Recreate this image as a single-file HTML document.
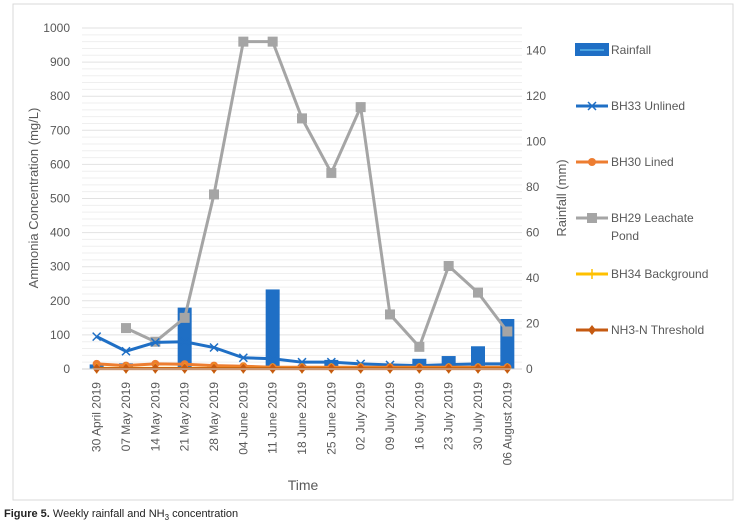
<!DOCTYPE html>
<html><head><meta charset="utf-8"><style>
body{margin:0;background:#fff;font-family:"Liberation Sans",sans-serif}
svg text{font-family:"Liberation Sans",sans-serif}
</style></head><body>
<svg id="c" width="739" height="526" xmlns="http://www.w3.org/2000/svg">
<rect x="13" y="4" width="720" height="496" fill="#fff" stroke="#d9d9d9"/>
<g id="grid"></g><g id="bars"></g><g id="lines"></g><g id="axes"></g><g id="legend"></g>
<text x="38" y="198" transform="rotate(-90 38 198)" text-anchor="middle" font-size="13" fill="#595959">Ammonia Concentration (mg/L)</text>
<text x="566" y="198" transform="rotate(-90 566 198)" text-anchor="middle" font-size="13" fill="#595959">Rainfall (mm)</text>
<text x="303" y="490" text-anchor="middle" font-size="14" fill="#595959">Time</text>
<text x="4" y="517" font-size="11" fill="#222"><tspan font-weight="bold">Figure 5.</tspan> Weekly rainfall and NH<tspan font-size="8" dy="3">3</tspan><tspan dy="-3"> concentration</tspan></text>
</svg>
<script>
const categories=["30 April 2019","07 May 2019","14 May 2019","21 May 2019","28 May 2019","04 June 2019","11 June 2019","18 June 2019","25 June 2019","02 July 2019","09 July 2019","16 July 2019","23 July 2019","30 July 2019","06 August 2019"];
const rainfall=[2,2.5,0.5,27,1,1,35,0.5,4,1,1,4.5,5.7,10,22];
const bh33=[95,52,78,80,63,33,30,20,20,15,12,10,13,15,15];
const bh30=[15,10,15,14,10,8,5,5,5,5,5,5,5,5,5];
const bh29=[null,120,80,150,512,960,960,735,575,768,160,65,302,224,110];
const bh34=[2,2,2,2,2,2,2,2,2,2,2,2,2,2,2];
const threshold=[1,1,1,1,1,1,1,1,1,1,1,1,1,1,1];
const leftTicks=[0,100,200,300,400,500,600,700,800,900,1000];
const rightTicks=[0,20,40,60,80,100,120,140];
const NS="http://www.w3.org/2000/svg";
const X0=82,X1=522,Y0=369,Y1=28,LMAX=1000,RMAX=150;
const bw=(X1-X0)/categories.length;
const xs=i=>X0+bw*(i+0.5);
const yl=v=>Y0-(v/LMAX)*(Y0-Y1);
const yr=v=>Y0-(v/RMAX)*(Y0-Y1);
function mk(t,a,p){const e=document.createElementNS(NS,t);for(const k in a)e.setAttribute(k,a[k]);document.getElementById(p).appendChild(e);return e;}
for(let v=20;v<=LMAX;v+=20){const g=mk('line',{x1:X0,x2:X1,y1:yl(v),y2:yl(v),stroke:v%100?'#efefef':'#e2e2e2'},'grid');

}
leftTicks.forEach(v=>{const t=mk('text',{x:X0-12,y:yl(v)+4,'text-anchor':'end','font-size':12,fill:'#595959'},'axes');t.textContent=v;

});
rightTicks.forEach(v=>{const t=mk('text',{x:X1+4,y:yr(v)+4,'font-size':12,fill:'#595959'},'axes');t.textContent=v;

});
const ax=mk('line',{x1:X0,x2:X1,y1:Y0,y2:Y0,stroke:'#d0d0d0'},'axes');


categories.forEach((c,i)=>{const x=xs(i)+4;const t=mk('text',{x:x,y:382,transform:`rotate(-90 ${x} 382)`,'text-anchor':'end','font-size':12,fill:'#595959'},'axes');t.textContent=c;

});
rainfall.forEach((v,i)=>{const b=mk('rect',{x:xs(i)-7,y:yr(v),width:14,height:Y0-yr(v),fill:'#1f6fc5'},'bars');

});
function marker(kind,x,y,col,p){
 if(kind==='x'){mk('path',{d:`M${x-4} ${y-4}L${x+4} ${y+4}M${x-4} ${y+4}L${x+4} ${y-4}`,stroke:col,'stroke-width':1.5},p);}
 else if(kind==='o')mk('circle',{cx:x,cy:y,r:4,fill:col},p);
 else if(kind==='s')mk('rect',{x:x-5,y:y-5,width:10,height:10,fill:col},p);
 else if(kind==='+')mk('path',{d:`M${x-4} ${y}L${x+4} ${y}M${x} ${y-5}L${x} ${y+5}`,stroke:col,'stroke-width':1.5},p);
 else if(kind==='d')mk('path',{d:`M${x} ${y-5}L${x+4} ${y}L${x} ${y+5}L${x-4} ${y}Z`,fill:col},p);
}
function series(data,col,kind,name){
 let d='';data.forEach((v,i)=>{if(v==null)return;d+=(d?'L':'M')+xs(i)+' '+yl(v);});
 const l=mk('path',{d:d,fill:'none',stroke:col,'stroke-width':3},'lines');
 
 
 data.forEach((v,i)=>{if(v!=null)marker(kind,xs(i),yl(v),col,'lines');});
}
series(bh29,'#a5a5a5','s','bh29');
series(bh33,'#1f6fc5','x','bh33');
series(bh30,'#ed7d31','o','bh30');
series(bh34,'#ffc000','+','bh34');
series(threshold,'#c55a11','d','threshold');
const leg=[["Rainfall","#1f6fc5","bar",50],["BH33 Unlined","#1f6fc5","x",106],["BH30 Lined","#ed7d31","o",162],["BH29 Leachate","#a5a5a5","s",218],["BH34 Background","#ffc000","+",274],["NH3-N Threshold","#c55a11","d",330]];
leg.forEach(([n,c,k,y])=>{
 if(k==='bar'){mk('rect',{x:575,y:y-7,width:34,height:13,fill:'#1f6fc5'},'legend');mk('line',{x1:580,x2:604,y1:y,y2:y,stroke:'#4aa3e0','stroke-width':2},'legend');}
 else{mk('line',{x1:576,x2:608,y1:y,y2:y,stroke:c,'stroke-width':3},'legend');marker(k,592,y,c,'legend');}
 const t=mk('text',{x:611,y:y+4,'font-size':12,fill:'#595959'},'legend');t.textContent=n;
 
 
 if(n==="BH29 Leachate"){const t2=mk('text',{x:611,y:y+22,'font-size':12,fill:'#595959'},'legend');t2.textContent="Pond";
 
 }
});
</script>
</body></html>
